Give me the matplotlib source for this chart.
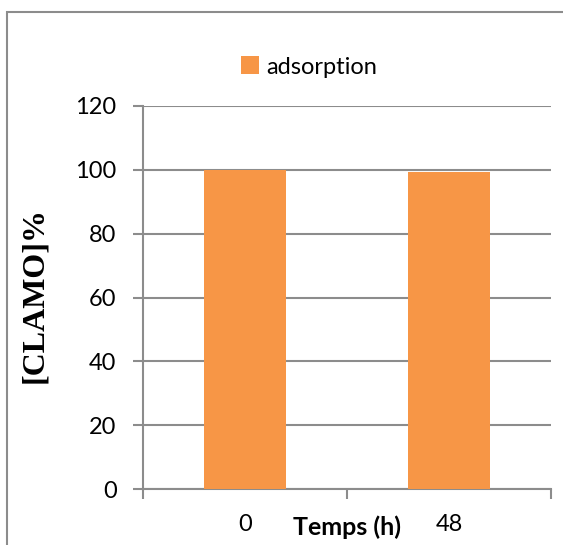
import matplotlib.pyplot as plt
from matplotlib.patches import Rectangle

# data
categories = ["0", "48"]
values = [100, 99.2]
series_name = "adsorption"
yticks = [0, 20, 40, 60, 80, 100, 120]

bar_color = "#F79646"
grid_color = "#8C8C8C"

fig = plt.figure(figsize=(5.63, 5.45), dpi=100)
W, H = 563, 545
ax = fig.add_axes([143 / W, 1 - 489 / H, (551 - 143) / W, (489 - 106) / H])

x = list(range(len(categories)))
ax.bar(x, values, width=0.4, color=bar_color, label=series_name, zorder=3)

ax.set_xlim(-0.5, len(categories) - 0.5)
ax.set_ylim(0, 120)
ax.set_yticks(yticks)
ax.yaxis.grid(True, color=grid_color, linewidth=1.5, zorder=0)

for s in ["top", "right"]:
    ax.spines[s].set_visible(False)
for s in ["left", "bottom"]:
    ax.spines[s].set_color(grid_color)
    ax.spines[s].set_linewidth(1.5)

# x ticks at category boundaries, labels at centers
ax.set_xticks([-0.5, 0.5, 1.5])
ax.set_xticklabels([])
ax.set_xticks(x, minor=True)
ax.set_xticklabels(categories, minor=True, fontsize=17, family="Lato")
ax.tick_params(axis="x", which="major", length=7, color=grid_color, width=1.5, direction="out")
ax.tick_params(axis="x", which="minor", length=0, pad=18)
ax.tick_params(axis="y", length=7, color=grid_color, width=1.5, labelsize=17, pad=12)
for lab in ax.get_yticklabels():
    lab.set_family("Lato")

ax.set_ylabel("[CLAMO]%", fontsize=23, fontweight="bold", family="Liberation Serif")
ax.yaxis.set_label_coords((49 - 143) / 408, (489 - 295) / 383)

fig.text(347 / W, 1 - 527 / H, "Temps (h)", ha="center", va="center",
         fontsize=18, fontweight="bold", family="Lato")

leg = ax.legend(loc="center", bbox_to_anchor=(309 / W, 1 - 67 / H),
                bbox_transform=fig.transFigure, frameon=False,
                prop={"family": "Lato", "size": 17}, handlelength=0.8,
                handleheight=0.8, handletextpad=0.3)

# outer chart frame (cut off at right and bottom)
fig.patches.append(Rectangle((7 / W, -0.05), 1.1, 1 - 12 / H + 0.05,
                             transform=fig.transFigure, fill=False,
                             edgecolor="#8C8C8C", linewidth=1.5))

fig.savefig("out.png", dpi=100)
